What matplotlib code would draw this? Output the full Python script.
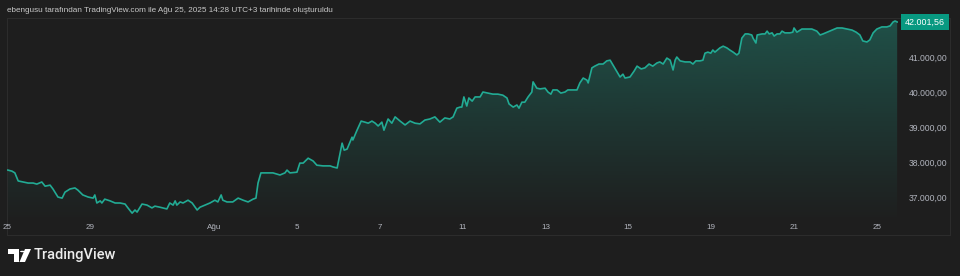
import numpy as np
import matplotlib.pyplot as plt
from matplotlib.patches import Polygon, Circle
from matplotlib.lines import Line2D
from matplotlib.ticker import FuncFormatter

BG = "#1e1e1e"
LINE = "#22ab94"
LABEL_GREEN = "#089981"
TXT = "#b2b5be"
FRAME = "#2c2c2c"

# session index (trading days since Jul 25; fractional = intraday)
t_day = [
    0.02, 0.12, 0.19, 0.27, 0.39, 0.51, 0.63, 0.72, 0.84, 0.92, 1.04, 1.11, 1.23, 1.33,
    1.40, 1.52, 1.64, 1.71, 1.83, 1.96, 2.08, 2.12, 2.17, 2.25, 2.29, 2.36, 2.49, 2.61,
    2.73, 2.85, 2.92, 3.02, 3.09, 3.14, 3.26, 3.38, 3.50, 3.57, 3.69, 3.86, 3.93, 4.01,
    4.06, 4.10, 4.18, 4.25, 4.37, 4.47, 4.59, 4.66, 4.78, 4.90, 5.02, 5.09, 5.17, 5.21,
    5.31, 5.45, 5.58, 5.70, 5.82, 5.94, 6.01, 6.06, 6.13, 6.28, 6.42, 6.59, 6.71, 6.76,
    6.83, 7.00, 7.07, 7.15, 7.27, 7.39, 7.48, 7.63, 7.80, 7.87, 7.97, 8.09, 8.14, 8.21,
    8.33, 8.35, 8.45, 8.55, 8.64, 8.72, 8.81, 8.89, 8.96, 9.05, 9.10, 9.20, 9.29, 9.37,
    9.49, 9.61, 9.73, 9.85, 9.97, 10.09, 10.21, 10.33, 10.45, 10.57, 10.69, 10.77, 10.86,
    10.94, 10.98, 11.03, 11.10, 11.15, 11.23, 11.30, 11.42, 11.49, 11.61, 11.73, 11.85,
    11.97, 12.07, 12.12, 12.22, 12.31, 12.36, 12.43, 12.50, 12.58, 12.67, 12.70, 12.79,
    12.87, 12.99, 13.06, 13.13, 13.18, 13.28, 13.37, 13.47, 13.54, 13.66, 13.76, 13.83,
    13.91, 14.00, 14.03, 14.12, 14.19, 14.29, 14.39, 14.48, 14.56, 14.63, 14.73, 14.80,
    14.87, 14.92, 15.04, 15.14, 15.21, 15.31, 15.40, 15.50, 15.59, 15.69, 15.76, 15.84,
    15.93, 16.01, 16.08, 16.13, 16.17, 16.25, 16.37, 16.49, 16.56, 16.63, 16.73, 16.80,
    16.85, 16.92, 16.99, 17.04, 17.09, 17.21, 17.29, 17.38, 17.45, 17.53, 17.62, 17.67,
    17.74, 17.82, 17.89, 17.98, 18.01, 18.08, 18.11, 18.23, 18.30, 18.35, 18.40, 18.47,
    18.52, 18.59, 18.66, 18.71, 18.78, 18.90, 18.97, 19.00, 19.07, 19.19, 19.31, 19.43,
    19.55, 19.63, 19.70, 19.80, 19.92, 20.04, 20.16, 20.28, 20.40, 20.50, 20.59, 20.66,
    20.76, 20.83, 20.91, 21.00, 21.12, 21.24, 21.32, 21.39, 21.44, 21.49,
]
price = [
    37770, 37740, 37690, 37460, 37430, 37400, 37400, 37370, 37430, 37310, 37340, 37230, 37000, 36970,
    37140, 37230, 37260, 37200, 37060, 37000, 36970, 37060, 36830, 36890, 36830, 36940, 36890, 36830,
    36830, 36800, 36690, 36540, 36630, 36570, 36800, 36770, 36690, 36740, 36710, 36660, 36830, 36770,
    36890, 36770, 36860, 36830, 36910, 36830, 36630, 36710, 36770, 36830, 36910, 36860, 37060, 36910,
    36860, 36860, 36970, 36910, 36860, 36940, 36970, 37400, 37690, 37690, 37690, 37630, 37690, 37770,
    37690, 37710, 37970, 37970, 38110, 38030, 37910, 37890, 37890, 37860, 37830, 38540, 38340, 38370,
    38710, 38630, 38910, 39170, 39140, 39110, 39170, 39110, 39030, 39140, 38910, 39230, 39110, 39290,
    39170, 39060, 39170, 39110, 39090, 39200, 39230, 39290, 39140, 39260, 39230, 39290, 39540,
    39570, 39570, 39860, 39600, 39830, 39740, 39860, 39860, 40000, 39970, 39940, 39940,
    39910, 39830, 39660, 39570, 39630, 39540, 39710, 39710, 39860, 40000, 40290, 40110,
    40090, 40110, 40000, 39940, 40060, 40060, 39970, 40000, 40060, 40060, 40060, 40260,
    40400, 40340, 40260, 40690, 40740, 40800, 40800, 40890, 40910, 40770, 40570, 40430,
    40510, 40400, 40430, 40600, 40740, 40660, 40690, 40800, 40740, 40830, 40860, 40800,
    40970, 40910, 40630, 40910, 41000, 40890, 40860, 40860, 40800, 40890, 40890, 40910,
    41110, 41140, 41110, 41200, 41140, 41260, 41310, 41260, 41200, 41140, 41060, 41110,
    41540, 41660, 41660, 41630, 41540, 41400, 41630, 41660, 41660, 41740, 41660, 41690,
    41600, 41660, 41660, 41740, 41690, 41690, 41710, 41830, 41710, 41800, 41800, 41800,
    41740, 41630, 41660, 41710, 41770, 41830, 41830, 41800, 41770, 41710, 41630, 41460,
    41430, 41490, 41690, 41800, 41860, 41860, 41890, 42000, 42030, 42001.56,
]

x_ticks = [0, 2, 5, 7, 9, 11, 13, 15, 17, 19, 21]
x_labels = ["25", "29", "Ağu", "5", "7", "11", "13", "15", "19", "21", "25"]
y_ticks = [37000, 38000, 39000, 40000, 41000]
last_price = 42001.56

W, H = 960, 276
plt.rcParams["font.family"] = ["Liberation Sans", "DejaVu Sans"]

fig = plt.figure(figsize=(W / 100, H / 100), dpi=100)
fig.patch.set_facecolor(BG)


def fx(px):
    return px / W


def fy(py):
    return 1 - py / H


def tr_number(val, _=None):
    return f"{val:,.2f}".replace(",", "X").replace(".", ",").replace("X", ".")


# ── price pane ────────────────────────────────────────────────────────────────
ax = fig.add_axes([fx(7), fy(217), fx(891), (217 - 18) / H])
ax.set_facecolor("none")
xlim = (0.0, 21.51)
ylim = (36430, 42115)
ax.set_xlim(*xlim)
ax.set_ylim(*ylim)

t = np.array(t_day)
v = np.array(price)

# gradient under the line, clipped to the area
poly = Polygon(np.vstack([[t[0], ylim[0]], np.column_stack([t, v]), [t[-1], ylim[0]]]),
               closed=True, facecolor="none", edgecolor="none")
ax.add_patch(poly)
n = 256
grad = np.zeros((n, 1, 4))
grad[..., 0], grad[..., 1], grad[..., 2] = 0x22 / 255, 0xab / 255, 0x94 / 255
grad[:, 0, 3] = np.linspace(0.02, 0.40, n) ** 1.1
ax.imshow(grad, extent=[xlim[0], xlim[1], ylim[0], ylim[1]], origin="lower",
          aspect="auto", clip_path=poly, zorder=1, interpolation="bilinear")

ax.plot(t, v, color=LINE, linewidth=1.2, zorder=3, solid_joinstyle="round")

for s in ax.spines.values():
    s.set_visible(False)

ax.set_xticks(x_ticks)
ax.set_xticklabels(x_labels)
ax.tick_params(axis="x", length=0, pad=5, labelsize=5.8, labelcolor=TXT)

ax.yaxis.tick_right()
ax.set_yticks(y_ticks)
ax.yaxis.set_major_formatter(FuncFormatter(tr_number))
ax.tick_params(axis="y", length=0, pad=7.5, labelsize=6.2, labelcolor=TXT)

# last price tag
ax.annotate(tr_number(last_price), xy=(1.0, last_price), xycoords=("axes fraction", "data"),
            xytext=(5, 0), textcoords="offset points", va="center", ha="left",
            fontsize=6.4, color="white",
            bbox=dict(boxstyle="square,pad=0.4", facecolor=LABEL_GREEN, edgecolor="none"))

# ── frame lines ───────────────────────────────────────────────────────────────
for (x0, y0, x1, y1) in [(7, 18, 950, 18), (7, 18, 7, 235), (7, 235, 950, 235), (950, 18, 950, 235)]:
    fig.add_artist(Line2D([fx(x0), fx(x1)], [fy(y0), fy(y1)], color=FRAME, linewidth=0.8, zorder=-1))

# ── header / footer ───────────────────────────────────────────────────────────
fig.text(fx(7), fy(11), "ebengusu tarafından TradingView.com ile Ağu 25, 2025 14:28 UTC+3 tarihinde oluşturuldu",
         fontsize=5.9, color="#c8c8c8", va="center", ha="left")

# TradingView logo mark
fig.add_artist(Polygon([[fx(8), fy(249)], [fx(19), fy(249)], [fx(19), fy(262)], [fx(14), fy(262)],
                        [fx(14), fy(254)], [fx(8), fy(254)]], closed=True,
                       facecolor="white", edgecolor="none", transform=fig.transFigure))
fig.add_artist(Circle((fx(22.5), fy(251.5)), 2.5 / W, facecolor="white", edgecolor="none",
                      transform=fig.transFigure))
fig.add_artist(Polygon([[fx(25), fy(249)], [fx(31), fy(249)], [fx(25), fy(262)], [fx(19.5), fy(262)]],
                       closed=True, facecolor="white", edgecolor="none", transform=fig.transFigure))
fig.text(fx(34), fy(255.5), "TradingView", fontsize=10.5, color="#ececec", va="center", ha="left",
         family=["Roboto", "DejaVu Sans"], fontweight="medium")

fig.savefig("out.png", dpi=100, facecolor=fig.get_facecolor())
